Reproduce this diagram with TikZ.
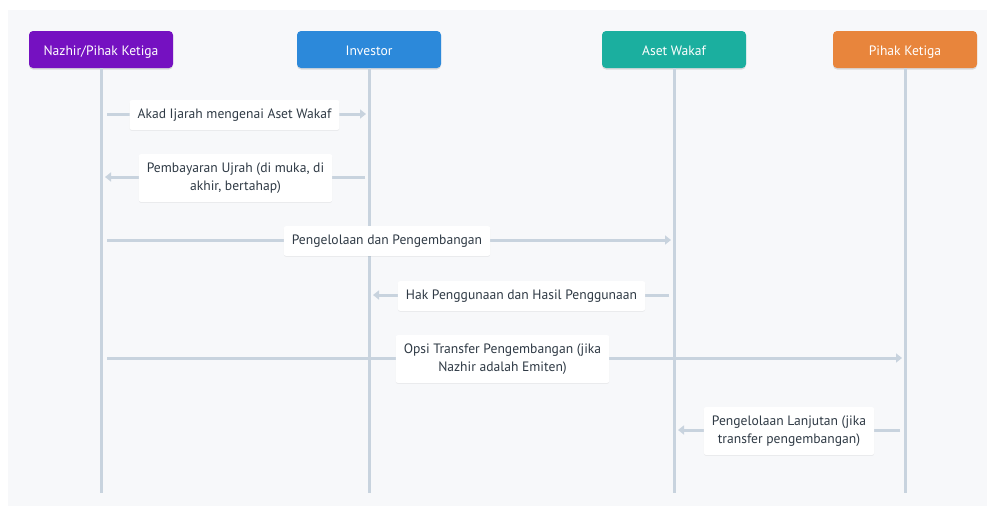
\documentclass[tikz,border=0pt]{standalone}
\usepackage{fontspec}
\setmainfont{PT Sans}
\usetikzlibrary{arrows.meta,shadows}
\definecolor{panel}{HTML}{F7F8FA}
\definecolor{life}{HTML}{C8D3DE}
\definecolor{cpurple}{HTML}{7511C1}
\definecolor{cblue}{HTML}{2C89DA}
\definecolor{cteal}{HTML}{1BAF9F}
\definecolor{corange}{HTML}{E8853C}
\definecolor{txt}{HTML}{2F3A45}
\tikzset{
  header/.style={rounded corners=4pt, minimum width=144pt, minimum height=37pt, text=white,
    font=\fontsize{13.6}{16}\selectfont, inner sep=0pt, text height=12pt, text depth=1pt,
    drop shadow={shadow xshift=0pt, shadow yshift=-1.5pt, opacity=0.12, fill=black}},
  lifeline/.style={draw=life, line width=3pt},
  msg/.style={draw=life, line width=3pt, -{Triangle[length=6pt,width=9pt]}},
  lbl/.style={fill=white, rounded corners=2pt, text=txt, align=center,
    font=\fontsize{13.6}{18}\selectfont, inner xsep=8pt, inner ysep=8.5pt,
    drop shadow={shadow xshift=0pt, shadow yshift=-1pt, opacity=0.05, fill=black}}
}
\begin{document}
\begin{tikzpicture}[x=1pt,y=-1pt]
\useasboundingbox (0,0) rectangle (987,506);
\fill[panel] (8,10) rectangle (987,506);
% headers
\node[header, fill=cpurple] (h1) at (101,49.5) {Nazhir/Pihak Ketiga};
\node[header, fill=cblue]   (h2) at (369,49.5) {Investor};
\node[header, fill=cteal]   (h3) at (674,49.5) {Aset Wakaf};
\node[header, fill=corange] (h4) at (905,49.5) {Pihak Ketiga};
% lifeline ends
\coordinate (e1) at (101,493);
\coordinate (e2) at (369,493);
\coordinate (e3) at (674,493);
\coordinate (e4) at (905,493);
\draw[lifeline] (h1.south) -- (e1);
\draw[lifeline] (h2.south) -- (e2);
\draw[lifeline] (h3.south) -- (e3);
\draw[lifeline] (h4.south) -- (e4);
% message endpoints
\coordinate (m1a) at (107,114); \coordinate (m1b) at (366,114);
\coordinate (m2a) at (365,177); \coordinate (m2b) at (105,177);
\coordinate (m3a) at (107,240); \coordinate (m3b) at (671,240);
\coordinate (m4a) at (669,295); \coordinate (m4b) at (373,295);
\coordinate (m5a) at (107,358); \coordinate (m5b) at (902,358);
\coordinate (m6a) at (900,430); \coordinate (m6b) at (678,430);
\draw[msg] (m1a) -- (m1b);
\draw[msg] (m2a) -- (m2b);
\draw[msg] (m3a) -- (m3b);
\draw[msg] (m4a) -- (m4b);
\draw[msg] (m5a) -- (m5b);
\draw[msg] (m6a) -- (m6b);
% labels
\node[lbl] (l1) at (234.5,115) {Akad Ijarah mengenai Aset Wakaf};
\node[lbl] (l2) at (235.5,178) {Pembayaran Ujrah (di muka, di\\akhir, bertahap)};
\node[lbl] (l3) at (387,241) {Pengelolaan dan Pengembangan};
\node[lbl] (l4) at (521.5,296) {Hak Penggunaan dan Hasil Penggunaan};
\node[lbl] (l5) at (502.5,359) {Opsi Transfer Pengembangan (jika\\Nazhir adalah Emiten)};
\node[lbl] (l6) at (789,431) {Pengelolaan Lanjutan (jika\\transfer pengembangan)};
\end{tikzpicture}
\end{document}
